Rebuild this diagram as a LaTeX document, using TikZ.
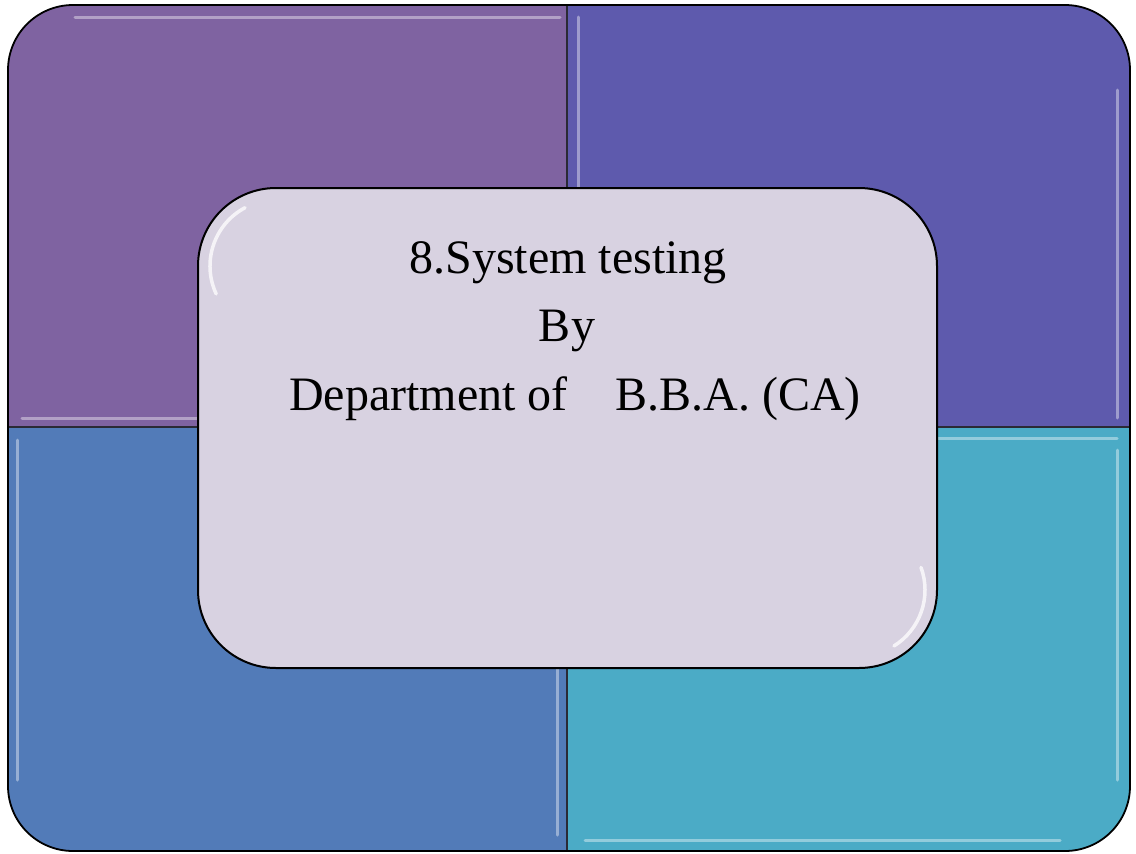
\documentclass[tikz,border=0pt]{standalone}
\usepackage{fontspec}
\setmainfont{Liberation Serif}
\definecolor{qtl}{HTML}{7F63A1}
\definecolor{qtr}{HTML}{5E5AAD}
\definecolor{qbl}{HTML}{527BB8}
\definecolor{qbr}{HTML}{4BABC6}
\definecolor{cbox}{HTML}{D8D2E1}
\definecolor{divline}{HTML}{2A2A35}
\begin{document}
\begin{tikzpicture}[x=1pt,y=-1pt,
  glow/.style={line width=3pt,white,opacity=0.4,line cap=round},
  boxglow/.style={white,opacity=0.75,line width=3.5pt,line cap=round},
  title/.style={font=\fontsize{48}{56}\selectfont,inner sep=0pt,anchor=base}]
\useasboundingbox (0,0) rectangle (1136,854);
\fill[white] (0,0) rectangle (1136,854);
\begin{scope}
  \clip[rounded corners=65pt] (8,5) rectangle (1130,851);
  \fill[qtl] (8,5) rectangle (567,427);
  \fill[qtr] (567,5) rectangle (1130,427);
  \fill[qbl] (8,427) rectangle (567,851);
  \fill[qbr] (567,427) rectangle (1130,851);
  % bevel highlights
  \draw[glow] (75,17) -- (560,17);
  \draw[glow] (22,418) -- (555,418);
  \draw[glow] (17,440) -- (17,780);
  \draw[glow] (557,440) -- (557,835);
  \draw[glow] (578,17) -- (578,415);
  \draw[glow] (1117,90) -- (1117,418);
  \draw[glow] (580,438) -- (1117,438);
  \draw[glow] (585,840) -- (1060,840);
  \draw[glow] (1117,450) -- (1117,780);
  % dividers
  \draw[divline,line width=1.5pt] (567,5) -- (567,851);
  \draw[divline,line width=1.5pt] (8,427) -- (1130,427);
\end{scope}
\draw[black,line width=1.8pt,rounded corners=65pt] (8,5) rectangle (1130,851);
% center box
\node[draw=black,line width=2pt,fill=cbox,rounded corners=78pt,minimum width=739pt,minimum height=480pt,inner sep=0pt] (box) at (567.5,428) {};
\draw[boxglow] (276,266) ++(205:66pt) arc[start angle=205,end angle=118,radius=66pt];
\draw[boxglow] (859,590) ++(-58:66pt) arc[start angle=-58,end angle=20,radius=66pt];
\node[title] (t1) at (568,273) {8.System testing};
\node[title] (t2) at (567,341) {By};
\node[title] (t3) at (575,410) {Department of \hspace{0.5em} B.B.A. (CA)};
\end{tikzpicture}
\end{document}
